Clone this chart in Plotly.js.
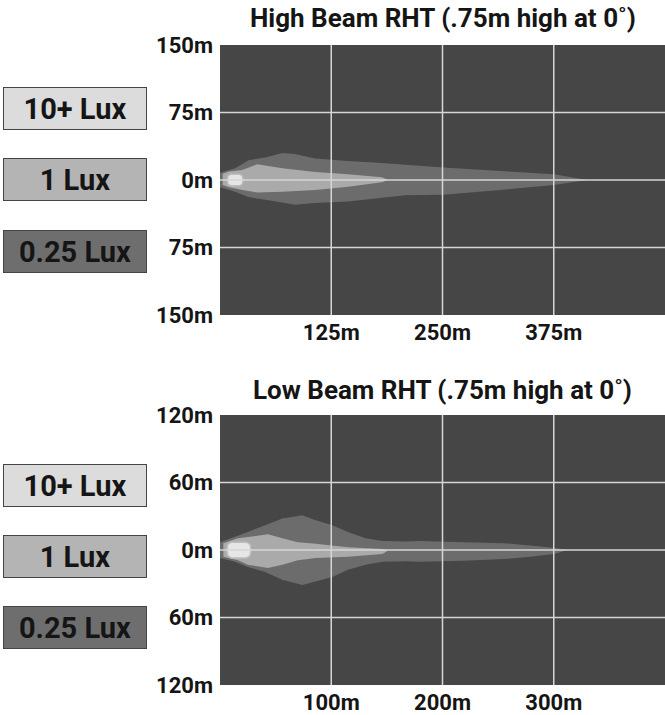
<!DOCTYPE html>
<html>
<head>
<meta charset="utf-8">
<script src="https://cdn.plot.ly/plotly-3.0.1.min.js"></script>
<style>html,body{margin:0;padding:0;background:#fff;}#chart{width:665px;height:715px;}</style>
</head>
<body>
<div id="chart"></div>
<script>
// ---------- data ----------
var titles = ["High Beam RHT (.75m high at 0˚)", "Low Beam RHT (.75m high at 0˚)"];
var legendLabels = ["10+ Lux", "1 Lux", "0.25 Lux"];

// High beam (x in m along road, y in m lateral)
var hbXTicks = [125, 250, 375];
var hbXTickText = ["125m", "250m", "375m"];
var hbYTicks = [-150, -75, 0, 75, 150];
var hbYTickText = ["150m", "75m", "0m", "75m", "150m"];

var hbOuterX   = [0, 17, 32, 51, 70, 84, 107, 144, 182, 208, 251, 315, 375, 413];
var hbOuterTop = [8, 13, 22, 25, 30, 29, 24, 21, 19, 17, 14, 10, 6.5, 0];
var hbOuterBot = [-8, -13, -19, -22, -25, -27.5, -25.5, -24, -20, -17, -16.5, -11, -5.5, 0];

var hbMidX   = [3, 10, 25, 42, 70, 107, 144, 182, 189];
var hbMidTop = [7, 9.5, 11, 17.5, 13, 9, 6.5, 3, 0];
var hbMidBot = [-5.5, -8, -11, -14, -13, -11, -7.5, -2.5, 0];

var hbHotX   = [8, 9, 12, 22, 25, 26];
var hbHotTop = [0, 4.5, 6.5, 6.5, 4.5, 0];
var hbHotBot = [0, -4.5, -6.5, -6.5, -4.5, 0];

// Low beam
var lbXTicks = [100, 200, 300];
var lbXTickText = ["100m", "200m", "300m"];
var lbYTicks = [-120, -60, 0, 60, 120];
var lbYTickText = ["120m", "60m", "0m", "60m", "120m"];

var lbOuterX   = [0, 13.5, 25, 40.5, 56, 74, 86, 101, 115, 131, 146, 167, 180, 219, 255, 279, 300, 313];
var lbOuterTop = [7, 11.5, 16, 22, 28, 31, 26.5, 22, 16, 10.5, 8, 7.5, 8, 7, 6, 4, 2, 0];
var lbOuterBot = [-7, -10.5, -15, -19.5, -26.5, -31, -28, -24, -17.5, -13, -10.5, -10, -10.5, -9.5, -8, -6, -3.5, 0];

var lbMidX   = [3, 16, 25, 43, 56, 70, 86, 115, 146, 150];
var lbMidTop = [6, 10.5, 11.5, 14, 10.5, 7, 5.5, 2.5, 1, 0];
var lbMidBot = [-6, -9, -13, -16, -13, -9, -7, -6, -3.5, -1];

var lbHotX   = [6, 7, 10, 24, 27, 28];
var lbHotTop = [0, 5, 7, 7, 5, 0];
var lbHotBot = [0, -5, -7, -7, -5, 0];

// ---------- styling ----------
var FONT = "Roboto, 'Liberation Sans', sans-serif";
var BG = "#464646";
var levelColors = ["#e6e6e6", "#aaaaaa", "#6c6c6c"];
var boxColors = ["#dcdcdc", "#b4b4b4", "#6e6e6e"];
var gridColor = "#d6d6d6";

function band(xs, top, bot, color, xa, ya, lineColor) {
  var px = xs.concat(xs.slice().reverse());
  var py = top.concat(bot.slice().reverse());
  return {
    type: "scatter", mode: "lines", x: px, y: py, fill: "toself",
    fillcolor: color, line: {width: lineColor ? 1.5 : 0, color: lineColor || color},
    xaxis: xa, yaxis: ya, hoverinfo: "skip", showlegend: false
  };
}

var traces = [
  band(hbOuterX, hbOuterTop, hbOuterBot, levelColors[2], "x", "y"),
  band(hbMidX, hbMidTop, hbMidBot, levelColors[1], "x", "y"),
  band(hbHotX, hbHotTop, hbHotBot, levelColors[0], "x", "y", "#bdbdbd"),
  band(lbOuterX, lbOuterTop, lbOuterBot, levelColors[2], "x2", "y2"),
  band(lbMidX, lbMidTop, lbMidBot, levelColors[1], "x2", "y2"),
  band(lbHotX, lbHotTop, lbHotBot, levelColors[0], "x2", "y2", "#bdbdbd")
];

// grid lines drawn above the fills
var shapes = [];
function addGrid(xt, yt, xa, ya) {
  xt.forEach(function (v) {
    shapes.push({type: "line", layer: "above", xref: xa, yref: ya + " domain",
      x0: v, x1: v, y0: 0, y1: 1, line: {color: gridColor, width: 1.5}});
  });
  yt.slice(1, -1).forEach(function (v) {
    shapes.push({type: "line", layer: "above", xref: xa + " domain", yref: ya,
      x0: 0, x1: 1, y0: v, y1: v, line: {color: gridColor, width: 1.5}});
  });
}
addGrid(hbXTicks, hbYTicks, "x", "y");
addGrid(lbXTicks, lbYTicks, "x2", "y2");

var W = 665, H = 715;
function py(p) { return 1 - p / H; }

var annotations = [];
// titles
[[18, 0], [390, 1]].forEach(function (a) {
  annotations.push({text: "<b>" + titles[a[1]] + "</b>", xref: "paper", yref: "paper",
    x: 442.5 / W, y: py(a[0]), xanchor: "center", yanchor: "middle", showarrow: false,
    font: {family: FONT, size: 26, color: "#151515"}});
});
// legend boxes
var boxCentersY = [[108.5, 179.5, 251.5], [485.5, 556.5, 627.5]];
boxCentersY.forEach(function (col) {
  col.forEach(function (cy, i) {
    annotations.push({text: "<b>" + legendLabels[i] + "</b>", xref: "paper", yref: "paper",
      x: 75 / W, y: py(cy), xanchor: "center", yanchor: "middle", showarrow: false,
      width: 140, height: 39, bgcolor: boxColors[i], bordercolor: "#444", borderwidth: 1, borderpad: 1,
      font: {family: FONT, size: 29, color: "#151515"}});
  });
});

var tickFont = {family: FONT, size: 22, color: "#151515", weight: "bold"};
function xAxis(tv, tt, anchor) {
  return {domain: [220 / W, 1], range: [0, anchor === "y" ? 500 : 400], anchor: anchor,
    tickvals: tv, ticktext: tt, showgrid: false, zeroline: false, showline: false, ticks: "",
    tickfont: tickFont, fixedrange: true, ticklabelstandoff: 2};
}
function yAxis(tv, tt, dom, anchor, r) {
  return {domain: dom, range: [-r, r], anchor: anchor, tickvals: tv, ticktext: tt,
    showgrid: false, zeroline: false, showline: false, ticks: "",
    tickfont: tickFont, fixedrange: true, ticklabelstandoff: 6};
}

var layout = {
  width: W, height: H, margin: {l: 0, r: 0, t: 0, b: 0},
  paper_bgcolor: "#ffffff", plot_bgcolor: BG, showlegend: false,
  xaxis: xAxis(hbXTicks, hbXTickText, "y"),
  yaxis: yAxis(hbYTicks, hbYTickText, [py(315), py(45)], "x", 150),
  xaxis2: xAxis(lbXTicks, lbXTickText, "y2"),
  yaxis2: yAxis(lbYTicks, lbYTickText, [py(685), py(415)], "x2", 120),
  shapes: shapes, annotations: annotations,
  font: {family: FONT}
};

Plotly.newPlot("chart", traces, layout, {displayModeBar: false, staticPlot: true});
</script>
</body>
</html>
